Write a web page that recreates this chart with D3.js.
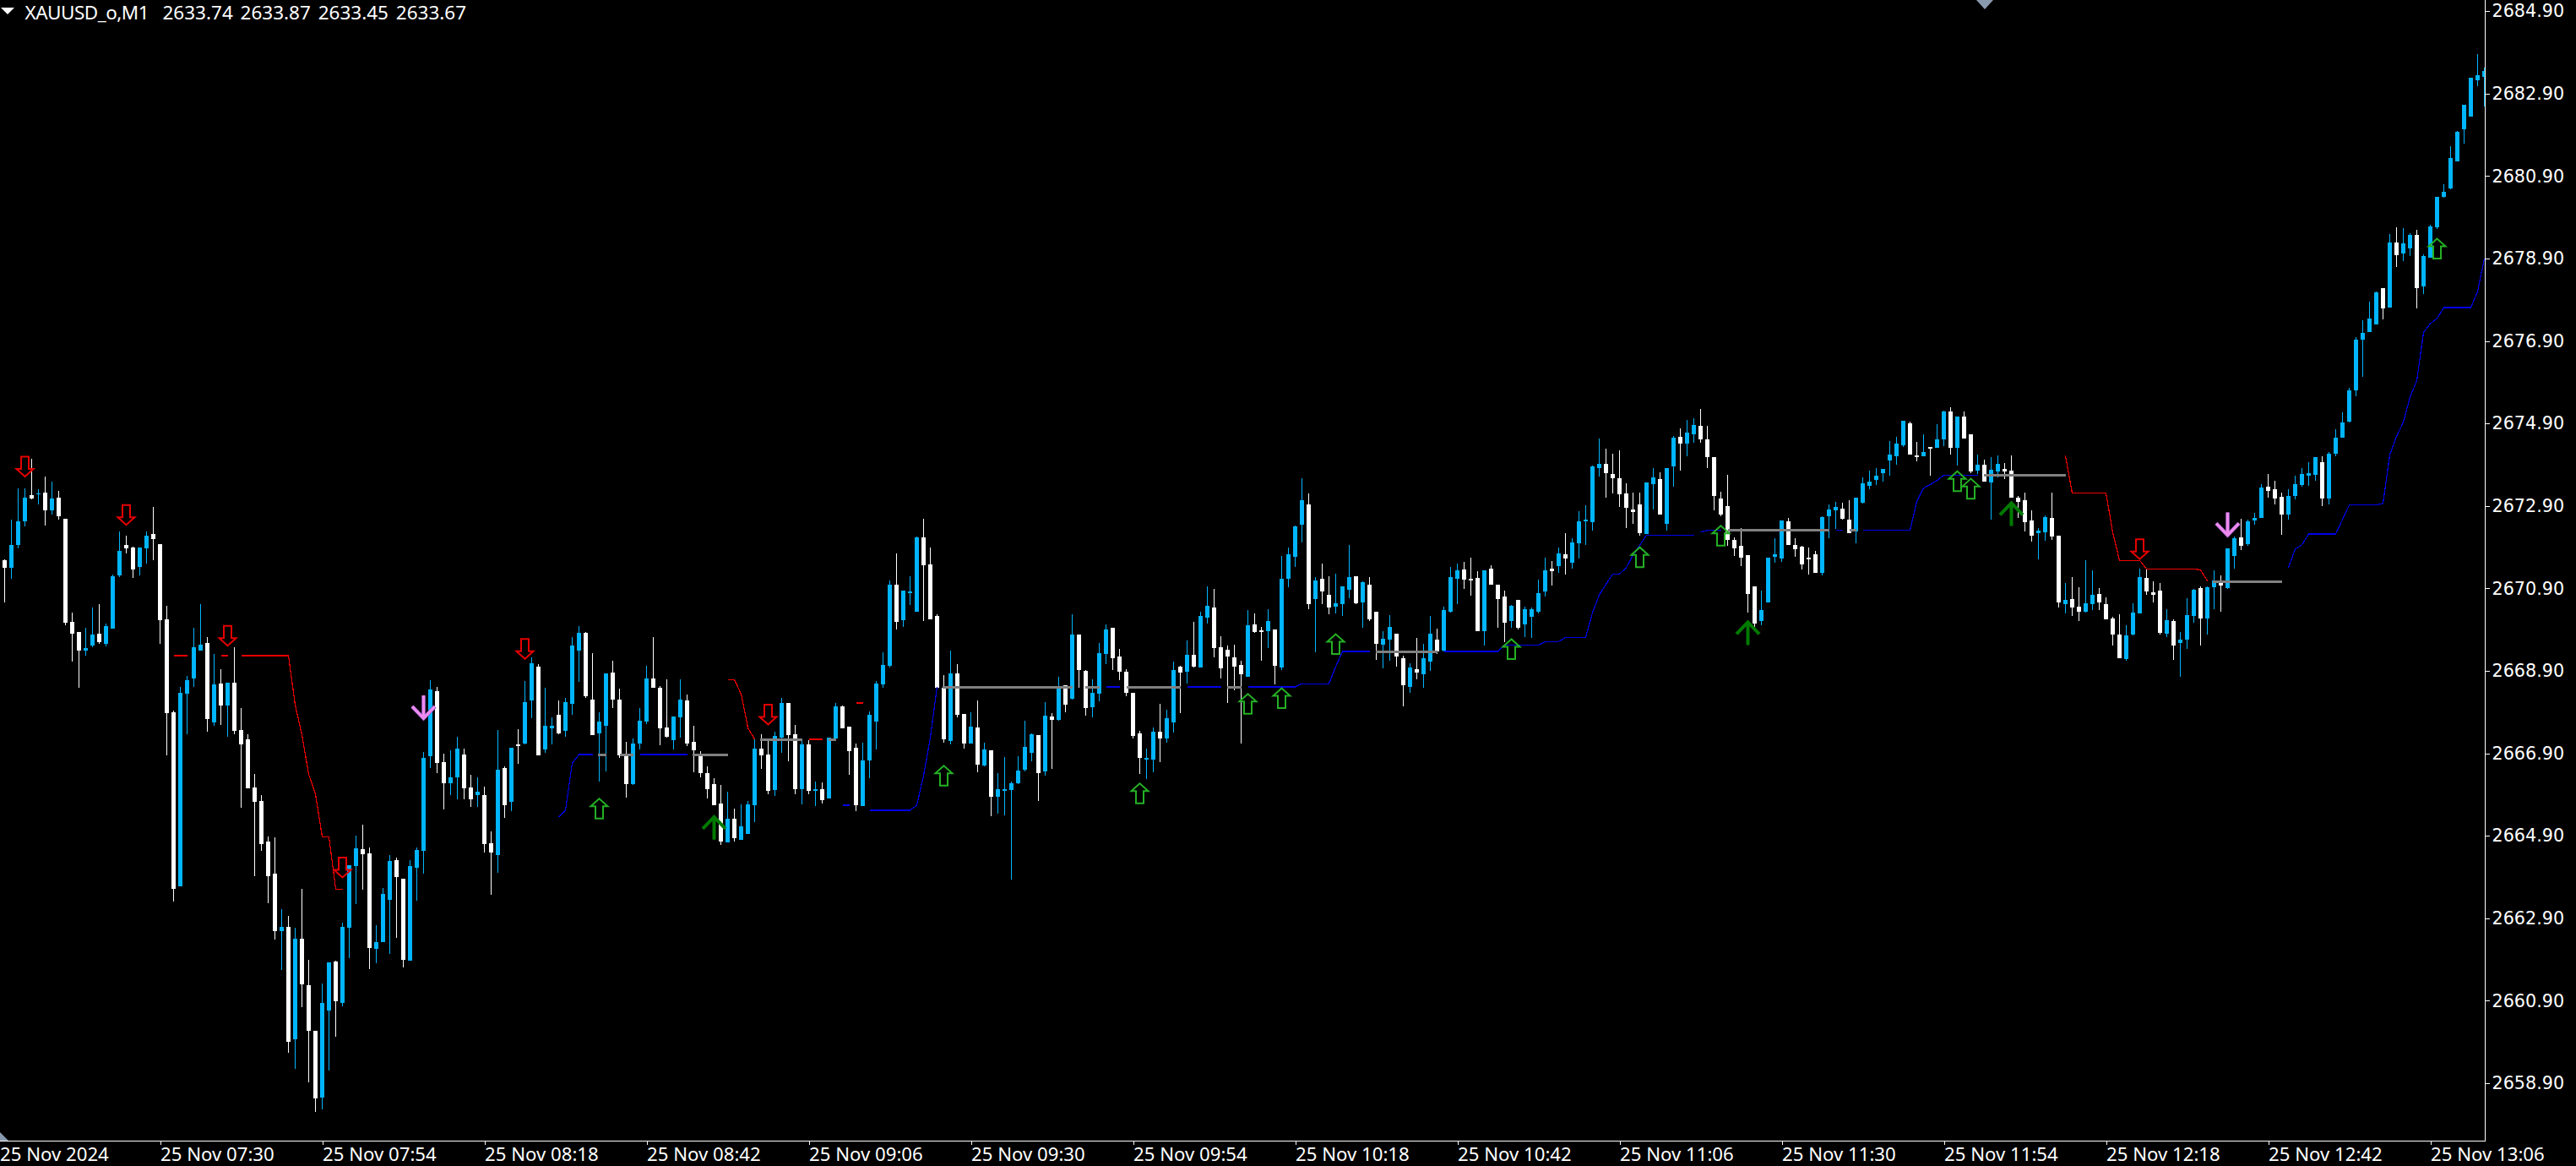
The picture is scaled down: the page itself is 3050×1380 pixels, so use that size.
<!DOCTYPE html>
<html><head><meta charset="utf-8"><title>XAUUSD_o,M1</title>
<script src="https://cdn.jsdelivr.net/npm/d3@7"></script>
<style>html,body{margin:0;padding:0;background:#000;overflow:hidden}svg{display:block}</style>
</head><body><svg id="chart" width="3050" height="1380"></svg>
<script>
const symbolName = "XAUUSD_o,M1";
const quoteText = "2633.74 2633.87 2633.45 2633.67";
const firstDateLabel = "25 Nov 2024";
const tickBars = [23,47,71,95,119,143,167,191,215,239,263,287,311,335,359];
const timeLabels = ["25 Nov 07:30","25 Nov 07:54","25 Nov 08:18","25 Nov 08:42","25 Nov 09:06","25 Nov 09:30","25 Nov 09:54","25 Nov 10:18","25 Nov 10:42","25 Nov 11:06","25 Nov 11:30","25 Nov 11:54","25 Nov 12:18","25 Nov 12:42","25 Nov 13:06"];
const priceTicks = [2684.9,2682.9,2680.9,2678.9,2676.9,2674.9,2672.9,2670.9,2668.9,2666.9,2664.9,2662.9,2660.9,2658.9];
const directions = ("WBBBWBWBWW"+"WWBBWBBBWW"+"BBWWWWBBBB"+"WBWBWWWWWW"+"WBWBWWWBBW"+"BBBWWBBBWW"+"BBBBWWBBWW"+"BWWBWBWBBW"+"BBWBBBWWBB"+"WWWBBBWWWB"+"BWWWWWWBWB"+"BBWWBBWWBW"+"BWBBWWWBBB"+"BBWBBBWWWW"+"BWWBWBWBBB"+"BBBWBWBWBW"+"WBBBWWWWWB"+"BWBBWBWBBW"+"WWWWBWWBWB"+"BBBWBWWBBB"+"WBWWBBWWBW"+"BBWBBBWWWB"+"WWWBWBBBBW"+"BWBBBBBWWW"+"WWWBBWBBWB"+"BWWWWWWWWW"+"BBBBWWWWWB"+"BBWWBBBBBB"+"BBWWBWBBWB"+"WWBWBBWWWW"+"WBBWWBWWBB"+"WWWWBBBWWW"+"BWBBBWBBWB"+"BWBBBWWWBB"+"BBBWBBBBBB"+"BBWBWBBWBB"+"BBBBBBBB").split("");
const highs = [
2671.61,2672.57,2673.33,2673.33,2674.04,2673.31,2673.62,2673.48,2673.27,2672.59,
2670.32,2669.85,2669.95,2670.44,2670.52,2670.05,2671.24,2672.29,2672.18,2671.92,
2671.90,2672.29,2672.88,2671.98,2670.48,2667.94,2668.52,2668.78,2669.95,2670.52,
2669.71,2669.32,2668.95,2668.62,2669.48,2668.00,2667.37,2666.41,2665.89,2664.89,
2664.87,2663.12,2662.96,2662.67,2663.62,2661.89,2660.17,2661.32,2661.83,2661.87,
2662.80,2664.19,2664.91,2665.17,2664.62,2662.73,2663.64,2664.44,2664.37,2663.86,
2664.31,2664.62,2666.94,2668.68,2668.52,2666.90,2666.98,2667.31,2667.02,2666.37,
2666.32,2666.10,2665.01,2667.47,2666.59,2667.04,2667.49,2668.66,2669.23,2669.07,
2668.49,2667.78,2668.19,2668.25,2669.72,2669.99,2669.85,2669.33,2667.90,2668.84,
2669.15,2668.47,2667.18,2667.26,2668.00,2669.03,2669.72,2668.54,2668.70,2667.80,
2668.70,2668.33,2667.57,2666.96,2666.59,2666.30,2666.14,2665.97,2665.56,2665.67,
2665.75,2667.24,2667.37,2667.22,2667.43,2668.25,2668.13,2667.59,2667.22,2667.22,
2666.22,2666.20,2667.29,2668.13,2668.06,2667.55,2667.14,2667.16,2667.92,2668.66,
2669.35,2671.09,2671.75,2670.85,2671.20,2672.16,2672.59,2671.90,2670.28,2668.80,
2669.40,2669.07,2667.86,2667.90,2668.19,2667.16,2666.98,2666.42,2666.81,2666.22,
2666.83,2667.69,2667.39,2667.35,2668.14,2667.88,2668.76,2668.55,2670.27,2669.78,
2668.92,2668.69,2669.58,2670.03,2669.95,2669.44,2668.94,2668.37,2667.45,2667.02,
2667.53,2668.10,2667.96,2669.13,2669.02,2669.64,2670.09,2670.34,2670.95,2670.89,
2669.74,2669.52,2669.54,2669.15,2670.38,2670.30,2669.97,2670.40,2669.91,2671.69,
2671.90,2672.43,2673.58,2673.21,2671.18,2671.51,2671.20,2671.26,2670.95,2671.96,
2671.20,2671.08,2671.18,2670.34,2669.87,2670.26,2669.81,2669.27,2669.09,2669.70,
2669.56,2670.24,2669.93,2670.46,2671.42,2671.51,2671.54,2671.65,2671.32,2671.34,
2671.47,2670.98,2670.85,2670.50,2670.63,2670.46,2670.44,2671.11,2671.64,2671.56,
2671.89,2672.24,2672.11,2672.77,2672.91,2673.87,2674.53,2674.29,2674.16,2674.24,
2673.45,2673.22,2673.22,2673.47,2673.81,2673.71,2673.81,2674.59,2674.78,2674.98,
2675.02,2675.25,2674.84,2674.08,2673.24,2673.65,2672.13,2672.36,2671.70,2670.95,
2670.84,2671.64,2672.11,2672.54,2672.61,2672.11,2671.93,2671.89,2671.81,2672.65,
2672.93,2672.99,2672.97,2673.04,2673.10,2673.59,2673.75,2673.81,2673.79,2674.47,
2674.57,2674.96,2674.94,2674.45,2674.63,2674.33,2674.88,2675.21,2675.29,2675.06,
2675.19,2674.63,2674.14,2674.02,2674.08,2674.12,2673.94,2674.12,2673.14,2673.22,
2672.79,2672.36,2672.67,2673.22,2672.17,2671.03,2671.17,2670.93,2671.58,2671.33,
2670.90,2670.68,2670.21,2670.27,2670.00,2670.54,2671.38,2671.36,2671.07,2671.03,
2670.39,2670.15,2669.84,2670.66,2670.88,2670.95,2670.95,2671.33,2671.21,2671.87,
2672.15,2672.58,2672.56,2672.73,2673.43,2673.67,2673.51,2673.23,2673.31,2673.64,
2673.82,2673.96,2674.09,2674.11,2674.21,2674.76,2675.17,2675.77,2677.00,2677.41,
2677.86,2678.10,2678.18,2679.50,2679.66,2679.64,2679.52,2679.60,2679.00,2679.72,
2680.40,2680.71,2681.63,2682.00,2682.63,2683.29,2683.86,2683.53];
const bodyTops = [
2671.59,2671.96,2672.53,2673.11,2673.17,2673.21,2673.23,2673.09,2673.11,2672.59,
2670.09,2669.85,2669.46,2669.79,2669.81,2669.99,2671.20,2671.82,2671.96,2671.90,
2671.90,2672.18,2672.21,2671.98,2670.14,2667.90,2668.37,2668.68,2669.48,2669.54,
2669.58,2668.58,2668.60,2668.62,2668.62,2667.47,2667.23,2666.08,2665.75,2664.76,
2663.98,2662.69,2662.69,2662.41,2662.41,2661.28,2660.17,2660.85,2661.83,2661.85,
2662.69,2664.19,2664.60,2664.58,2664.48,2662.32,2663.49,2664.29,2664.31,2663.86,
2664.17,2664.56,2666.78,2668.44,2668.41,2666.69,2666.32,2667.02,2666.88,2666.08,
2665.96,2665.89,2664.72,2666.51,2666.55,2667.04,2667.12,2668.15,2669.09,2669.01,
2667.57,2667.57,2667.84,2668.15,2669.52,2669.83,2669.83,2668.21,2667.67,2668.84,
2668.86,2668.21,2666.83,2667.14,2667.70,2668.72,2668.72,2668.49,2667.53,2667.80,
2668.21,2668.19,2667.18,2666.83,2666.42,2666.16,2665.69,2665.32,2665.32,2665.13,
2665.67,2667.02,2667.02,2666.88,2667.33,2668.13,2668.13,2667.37,2667.12,2667.12,
2666.04,2666.04,2667.29,2668.04,2668.04,2667.55,2667.04,2666.73,2667.84,2668.60,
2669.05,2670.99,2670.99,2670.85,2670.82,2672.14,2672.14,2671.48,2670.24,2668.49,
2668.84,2668.84,2667.86,2667.55,2667.53,2667.00,2666.98,2666.04,2666.04,2666.18,
2666.49,2667.06,2667.37,2667.35,2667.82,2667.80,2668.50,2668.55,2669.78,2669.78,
2668.90,2668.37,2669.33,2669.91,2669.95,2669.25,2668.88,2668.37,2667.39,2666.79,
2667.43,2667.43,2667.75,2668.92,2669.00,2669.29,2669.29,2670.23,2670.48,2670.44,
2669.48,2669.42,2669.23,2669.05,2670.01,2670.03,2669.89,2670.11,2669.91,2671.14,
2671.73,2672.41,2673.04,2672.94,2671.10,2671.14,2670.75,2670.54,2670.95,2671.18,
2671.20,2671.06,2671.00,2670.34,2669.68,2669.97,2669.81,2669.21,2668.99,2668.95,
2669.21,2669.81,2669.66,2670.38,2671.18,2671.34,2671.36,2671.14,2671.16,2671.34,
2671.38,2670.98,2670.71,2670.48,2670.63,2670.40,2670.40,2670.78,2671.34,2671.38,
2671.74,2671.72,2672.01,2672.52,2672.56,2673.85,2673.92,2673.92,2673.67,2673.57,
2673.20,2672.81,2672.93,2673.47,2673.59,2673.55,2673.81,2674.55,2674.57,2674.67,
2674.86,2674.84,2674.51,2674.08,2673.08,2672.89,2672.07,2671.93,2671.70,2670.95,
2670.37,2671.64,2671.72,2672.54,2672.52,2671.95,2671.91,2671.64,2671.72,2672.63,
2672.81,2672.87,2672.83,2672.56,2673.10,2673.45,2673.49,2673.63,2673.79,2674.14,
2674.41,2674.96,2674.90,2674.12,2674.20,2674.33,2674.51,2675.19,2675.19,2675.06,
2675.06,2674.63,2673.90,2673.90,2673.77,2673.92,2673.79,2673.75,2673.10,2673.04,
2672.54,2672.30,2672.63,2672.61,2672.17,2670.62,2670.64,2670.45,2670.54,2670.74,
2670.76,2670.52,2670.17,2669.78,2669.76,2670.31,2671.17,2671.15,2670.80,2670.84,
2670.13,2670.11,2669.65,2670.25,2670.86,2670.90,2670.93,2671.09,2671.03,2671.87,
2672.11,2672.13,2672.52,2672.61,2673.35,2673.36,2673.31,2673.12,2673.14,2673.43,
2673.68,2673.70,2674.09,2673.96,2674.17,2674.56,2674.93,2675.71,2676.93,2677.10,
2677.45,2678.08,2678.18,2679.29,2679.29,2679.27,2679.48,2679.48,2678.97,2679.68,
2680.40,2680.52,2681.34,2681.97,2682.63,2683.29,2683.35,2683.45];
const bodyBottoms = [
2671.41,2671.41,2671.96,2672.53,2673.09,2673.19,2672.80,2672.80,2672.64,2670.07,
2669.81,2669.40,2669.40,2669.52,2669.60,2669.56,2669.93,2671.22,2671.88,2671.36,
2671.43,2671.88,2672.10,2670.12,2667.88,2663.62,2663.68,2668.35,2668.72,2669.40,
2667.74,2667.66,2668.07,2668.07,2667.45,2667.12,2666.06,2665.73,2664.69,2663.92,
2662.59,2662.59,2659.91,2659.97,2661.30,2660.17,2658.53,2658.55,2660.66,2660.89,
2660.85,2662.67,2664.17,2664.46,2662.18,2662.16,2662.32,2663.35,2663.90,2661.89,
2661.87,2664.13,2664.54,2666.84,2666.67,2666.18,2666.18,2666.32,2666.06,2665.79,
2665.89,2664.70,2664.50,2664.44,2665.65,2665.73,2667.08,2667.14,2668.19,2666.86,
2667.00,2667.51,2667.39,2667.45,2668.11,2669.40,2668.29,2667.35,2667.39,2667.57,
2668.21,2666.86,2666.16,2666.16,2667.14,2667.67,2668.49,2667.51,2667.31,2667.22,
2667.78,2667.14,2666.98,2666.42,2666.04,2665.65,2664.77,2664.74,2664.85,2664.81,
2664.95,2665.65,2666.86,2665.99,2666.02,2667.28,2667.35,2666.04,2666.04,2665.99,
2665.99,2665.77,2665.81,2667.26,2667.51,2666.96,2665.65,2665.63,2666.73,2667.67,
2668.58,2669.03,2670.09,2670.13,2670.80,2670.34,2671.46,2670.15,2668.49,2667.24,
2667.20,2667.84,2667.14,2667.14,2666.63,2666.61,2665.85,2665.85,2665.99,2666.02,
2666.18,2666.51,2666.92,2666.42,2666.47,2667.72,2667.72,2668.08,2668.22,2668.92,
2668.00,2668.02,2668.35,2669.31,2669.21,2668.88,2668.37,2667.32,2666.79,2666.75,
2666.75,2667.26,2667.26,2667.65,2668.86,2668.88,2669.00,2668.98,2670.20,2669.46,
2668.97,2669.25,2669.00,2668.82,2668.76,2669.85,2669.85,2669.87,2669.02,2668.98,
2671.14,2671.67,2672.45,2670.52,2670.65,2670.83,2670.44,2670.46,2670.52,2670.87,
2670.54,2670.57,2670.16,2669.56,2669.54,2669.66,2669.25,2668.56,2668.52,2668.86,
2668.82,2669.13,2669.37,2669.39,2670.34,2671.14,2671.12,2671.10,2669.87,2669.87,
2670.98,2670.65,2670.07,2670.11,2669.95,2670.03,2670.21,2670.33,2670.82,2671.31,
2671.44,2671.62,2671.52,2671.99,2672.52,2672.50,2673.81,2673.69,2673.57,2673.18,
2672.85,2672.75,2672.24,2672.22,2673.42,2672.69,2672.46,2673.85,2674.41,2674.41,
2674.63,2674.51,2674.08,2673.14,2672.69,2672.07,2671.87,2671.64,2670.76,2670.04,
2670.11,2670.56,2671.66,2671.62,2671.95,2671.85,2671.48,2671.60,2671.27,2671.27,
2672.65,2672.79,2672.58,2672.24,2672.28,2672.97,2673.38,2673.53,2673.69,2674.00,
2674.10,2674.37,2674.14,2674.10,2674.10,2674.29,2674.31,2674.51,2674.31,2674.31,
2674.53,2673.73,2673.75,2673.49,2673.47,2673.73,2673.73,2673.10,2672.99,2672.50,
2672.17,2672.24,2672.26,2672.15,2670.56,2670.52,2670.43,2670.33,2670.33,2670.52,
2670.56,2670.15,2669.78,2669.20,2669.18,2669.78,2670.29,2670.82,2670.74,2669.82,
2669.80,2669.51,2669.57,2669.65,2670.23,2670.17,2670.17,2670.93,2670.97,2670.90,
2671.68,2671.93,2671.97,2672.54,2672.61,2673.26,2673.08,2672.69,2672.69,2673.14,
2673.41,2673.64,2673.66,2673.08,2673.08,2674.17,2674.56,2674.95,2675.71,2676.93,
2677.12,2677.31,2677.69,2677.71,2678.98,2679.02,2679.15,2678.19,2678.23,2678.92,
2679.66,2680.40,2680.61,2681.26,2682.04,2682.35,2683.23,2683.31];
const lows = [
2670.57,2671.14,2671.88,2672.41,2673.07,2672.94,2672.43,2672.70,2672.57,2670.01,
2669.13,2668.48,2669.27,2669.48,2669.56,2669.50,2669.93,2671.18,2671.75,2671.16,
2671.22,2671.51,2671.59,2669.56,2666.86,2663.31,2663.68,2667.37,2668.52,2669.40,
2667.43,2667.57,2667.59,2667.31,2667.37,2665.59,2666.06,2663.93,2664.54,2663.27,
2662.39,2661.65,2659.64,2659.25,2660.75,2658.92,2658.21,2658.27,2659.21,2660.03,
2660.77,2661.94,2663.25,2663.60,2661.67,2661.81,2662.32,2662.04,2662.43,2661.71,
2661.87,2663.33,2663.98,2666.55,2666.43,2665.53,2665.89,2665.79,2665.79,2665.61,
2665.61,2664.50,2663.47,2664.00,2665.34,2665.50,2666.65,2667.12,2667.76,2666.86,
2666.92,2667.12,2667.37,2667.31,2667.84,2668.64,2668.25,2667.35,2666.22,2666.47,
2668.00,2666.79,2665.83,2666.14,2667.00,2667.61,2668.49,2667.10,2667.29,2667.00,
2667.29,2667.08,2666.45,2666.32,2665.81,2665.65,2664.68,2664.74,2664.77,2664.81,
2664.95,2665.24,2666.53,2665.91,2665.87,2666.92,2666.71,2665.91,2665.67,2665.91,
2665.63,2665.69,2665.81,2667.26,2667.51,2666.38,2665.50,2665.63,2666.30,2667.00,
2668.49,2668.99,2669.91,2669.97,2670.50,2670.34,2670.11,2670.15,2668.49,2667.16,
2667.12,2667.78,2667.02,2667.14,2666.45,2666.59,2665.38,2665.44,2665.40,2663.83,
2666.16,2666.47,2666.71,2665.75,2666.36,2666.53,2667.69,2667.90,2668.20,2668.49,
2667.82,2667.78,2668.17,2669.07,2668.92,2668.68,2668.29,2667.26,2666.40,2666.28,
2666.45,2666.69,2667.16,2667.41,2667.88,2668.60,2668.98,2668.98,2670.05,2669.23,
2668.72,2668.12,2668.43,2667.14,2668.76,2669.83,2669.15,2669.46,2668.58,2668.92,
2670.93,2671.43,2672.02,2670.40,2669.36,2670.52,2670.28,2670.30,2670.24,2670.67,
2670.52,2669.95,2670.11,2669.17,2668.97,2669.15,2669.00,2668.04,2668.37,2668.70,
2668.50,2668.90,2669.31,2669.37,2670.32,2670.52,2670.89,2670.73,2669.87,2669.52,
2670.98,2669.95,2669.60,2669.95,2669.91,2669.72,2669.70,2670.29,2670.70,2670.97,
2671.27,2671.23,2671.38,2671.62,2671.95,2672.30,2673.61,2673.10,2673.20,2672.87,
2672.36,2672.46,2672.17,2672.22,2672.81,2672.69,2672.30,2673.36,2673.75,2674.10,
2674.43,2674.43,2673.81,2672.79,2672.65,2671.93,2671.68,2671.44,2670.31,2669.96,
2670.00,2670.56,2671.52,2671.54,2671.95,2671.66,2671.36,2671.23,2671.27,2671.21,
2672.11,2672.34,2672.56,2672.24,2671.99,2672.95,2673.30,2673.40,2673.49,2673.63,
2673.90,2674.33,2674.14,2673.98,2674.10,2673.63,2674.31,2674.35,2674.14,2673.88,
2674.53,2673.69,2673.67,2673.49,2672.56,2673.59,2673.55,2673.10,2672.61,2672.28,
2672.03,2671.60,2672.05,2672.07,2670.43,2670.29,2670.23,2670.11,2670.31,2670.37,
2670.37,2670.15,2669.51,2669.20,2669.14,2669.76,2670.29,2670.74,2670.56,2669.78,
2669.72,2669.16,2668.75,2669.43,2670.06,2669.51,2669.78,2670.39,2670.33,2670.88,
2671.38,2671.83,2671.93,2672.44,2672.61,2673.10,2672.94,2672.20,2672.57,2673.06,
2673.37,2673.39,2673.51,2672.90,2672.94,2674.11,2674.56,2674.93,2675.56,2676.03,
2677.12,2677.30,2677.43,2677.71,2678.70,2678.84,2678.97,2677.70,2678.04,2678.92,
2679.62,2680.38,2680.58,2681.26,2681.69,2682.35,2683.08,2682.59];

// Blue stop line: runs of per-bar values, each run starting at the matching bar
const blueStarts = [82,94,124,128,163,175,184,213,251,271,275,338];
const blueRuns = [
[2665.35,2665.52,2666.66,2666.87,2666.87,2666.87],
[2666.87,2666.87,2666.87,2666.87,2666.87,2666.87,2666.87,2666.87],
[2665.64,2665.64],
[2665.52,2665.52,2665.52,2665.52,2665.52,2665.52,2665.52,2665.64,2666.36,2667.28,2668.51],
[2668.51,2668.51,2668.51],
[2668.51,2668.51,2668.51,2668.51,2668.51,2668.51],
[2668.51,2668.51,2668.51,2668.51,2668.51,2668.51,2668.51,2668.51,2668.59,2668.59,2668.59,2668.59,2668.59,2669.00,2669.37,2669.37,2669.37,2669.37,2669.37],
[2669.37,2669.37,2669.37,2669.37,2669.37,2669.37,2669.37,2669.37,2669.37,2669.53,2669.53,2669.52,2669.52,2669.52,2669.52,2669.61,2669.61,2669.61,2669.71,2669.71,2669.71,2669.71,2670.31,2670.74,2671.00,2671.25,2671.25,2671.40,2671.71,2671.95,2672.19,2672.19,2672.19,2672.19,2672.19,2672.19,2672.19,2672.19],
[2672.26,2672.31,2672.31,2672.31],
[2672.31,2672.31],
[2672.31,2672.31,2672.31,2672.31,2672.31,2672.31,2672.31,2672.31,2673.01,2673.33,2673.42,2673.52,2673.65,2673.65,2673.65,2673.65,2673.65,2673.65],
[2671.40,2671.85,2671.96,2672.22,2672.22,2672.22,2672.22,2672.22,2672.57,2672.92,2672.92,2672.92,2672.92,2672.92,2672.96,2674.14,2674.59,2674.93,2675.54,2675.94,2677.11,2677.32,2677.45,2677.71,2677.71,2677.71,2677.71,2677.71,2678.10,2678.90]
];
// Red stop line
const redStarts = [25,32,35,107,119,126,305];
const redRuns = [
[2669.27,2669.27,2669.27],
[2669.27,2669.27],
[2669.27,2669.27,2669.27,2669.27,2669.27,2669.27,2669.27,2669.27,2668.07,2667.35,2666.39,2665.91,2664.88,2664.87,2663.61,2663.61],
[2668.69,2668.69,2668.34,2667.52,2667.24],
[2667.24,2667.24,2667.24],
[2668.12,2668.12],
[2674.12,2673.21,2673.21,2673.21,2673.21,2673.21,2673.21,2672.26,2671.58,2671.58,2671.58,2671.58,2671.37,2671.37,2671.37,2671.37,2671.37,2671.37,2671.37,2671.37,2671.35,2671.08]
];
// Grey level segments
const greyPrices = [2666.87,2666.87,2666.87,2667.24,2667.24,2668.51,2668.51,2668.51,2668.51,2669.37,2672.31,2672.31,2673.65,2671.07];
const greyFrom = [87.8,91,101.8,111.8,121.9,138.8,159.9,166,180.9,202.9,255,273.1,292.9,326.8];
const greyTo = [89.1,93.1,107.1,118,123.1,158,162.1,174,183.1,212.1,270.1,274.1,305.1,337.1];
// Signal arrows
const redArrowBars = [3,18,33,50,77,113,316];
const redArrowPrices = [2673.58,2672.41,2669.48,2663.86,2669.16,2667.57,2671.58];
const greenArrowBars = [88,139,168,184,189,197,223,242,254,289,291,360];
const greenArrowPrices = [2665.83,2666.63,2666.20,2668.37,2668.51,2669.82,2669.70,2671.93,2672.45,2673.77,2673.59,2679.41];
const bigUpBars = [105,258,297];
const bigUpPrices = [2665.40,2670.12,2673.01];
const bigDownBars = [62,329];
const bigDownPrices = [2667.71,2672.15];

const W = 3050, H = 1380, plotRight = 2943, plotBottom = 1350;
const BULL = "#00b5ff", BEAR = "#ffffff";
const x = d3.scaleLinear().domain([0, 367]).range([5.5, 5.5 + 367 * 8]);
const y = d3.scaleLinear().domain([2684.9, 2658.9]).range([13.2, 13.2 + 26 * 48.8]);
const svg = d3.select("#chart").attr("viewBox", `0 0 ${W} ${H}`);
svg.append("rect").attr("width", W).attr("height", H).attr("fill", "#000");
svg.append("clipPath").attr("id", "plot").append("rect").attr("width", plotRight - 0.5).attr("height", plotBottom);
const plot = svg.append("g").attr("clip-path", "url(#plot)");

const bars = d3.range(highs.length);
const candle = plot.append("g").attr("shape-rendering", "crispEdges");
const lines = plot.append("g").attr("fill", "none").attr("shape-rendering", "crispEdges");
const line = start => d3.line().x((d, j) => x(start + j)).y(d => y(d));
redRuns.forEach((run, k) => lines.append("path").attr("d", line(redStarts[k])(run)).attr("stroke", "#f00000").attr("stroke-width", 1.2));
blueRuns.forEach((run, k) => lines.append("path").attr("d", line(blueStarts[k])(run)).attr("stroke", "#0000e6").attr("stroke-width", 1.2));

candle.selectAll("rect.wick").data(bars).join("rect").attr("class", "wick")
  .attr("x", i => x(i) - 0.5).attr("width", 1)
  .attr("y", i => y(highs[i])).attr("height", i => Math.max(1, y(lows[i]) - y(highs[i])))
  .attr("fill", i => directions[i] === "B" ? BULL : BEAR);
candle.selectAll("rect.body").data(bars).join("rect").attr("class", "body")
  .attr("x", i => x(i) - 2.5).attr("width", 5)
  .attr("y", i => y(bodyTops[i])).attr("height", i => Math.max(1.5, y(bodyBottoms[i]) - y(bodyTops[i])))
  .attr("fill", i => directions[i] === "B" ? BULL : BEAR);

plot.append("g").attr("shape-rendering", "crispEdges").selectAll("rect").data(greyPrices).join("rect")
  .attr("x", (d, k) => x(greyFrom[k])).attr("width", (d, k) => x(greyTo[k]) - x(greyFrom[k]))
  .attr("y", d => y(d) - 1.5).attr("height", 3).attr("fill", "#808080");

const hollowDown = "M0,-1.5 L-10,-10.5 L-4.5,-10.5 L-4.5,-25 L4.5,-25 L4.5,-10.5 L10,-10.5 Z";
const hollowUp = "M0,1.5 L-10,10.5 L-4.5,10.5 L-4.5,25 L4.5,25 L4.5,10.5 L10,10.5 Z";
const arrows = plot.append("g").attr("fill", "none");
arrows.selectAll("path.red").data(redArrowBars).join("path").attr("class", "red")
  .attr("d", hollowDown).attr("transform", (b, k) => `translate(${x(b)},${y(redArrowPrices[k])})`)
  .attr("stroke", "#e60000").attr("stroke-width", 2);
arrows.selectAll("path.green").data(greenArrowBars).join("path").attr("class", "green")
  .attr("d", hollowUp).attr("transform", (b, k) => `translate(${x(b)},${y(greenArrowPrices[k])})`)
  .attr("stroke", "#24b024").attr("stroke-width", 2);
const chevronUp = "M-13.5,16 L0,2 L13.5,16 M0,2 V29";
const chevronDown = "M-13.5,-16 L0,-2 L13.5,-16 M0,-2 V-29";
arrows.selectAll("path.bigup").data(bigUpBars).join("path").attr("class", "bigup")
  .attr("d", chevronUp).attr("transform", (b, k) => `translate(${x(b)},${y(bigUpPrices[k])})`)
  .attr("stroke", "#007a00").attr("stroke-width", 4);
arrows.selectAll("path.bigdownedge").data(bigDownBars).join("path").attr("class", "bigdownedge")
  .attr("d", chevronDown).attr("transform", (b, k) => `translate(${x(b)},${y(bigDownPrices[k])})`)
  .attr("stroke", "#8a4fb8").attr("stroke-width", 4.6);
arrows.selectAll("path.bigdown").data(bigDownBars).join("path").attr("class", "bigdown")
  .attr("d", chevronDown).attr("transform", (b, k) => `translate(${x(b)},${y(bigDownPrices[k])})`)
  .attr("stroke", "#ee8aee").attr("stroke-width", 3.4);

// Axes
const axisFont = "'Noto Sans', sans-serif";
const yAxis = d3.axisRight(y).tickValues(priceTicks).tickFormat(d3.format(".2f")).tickSize(5).tickPadding(3);
const gy = svg.append("g").attr("transform", `translate(${plotRight - 0.5},0)`).call(yAxis);
gy.select(".domain").remove();
gy.selectAll("line").attr("stroke", "#fff").attr("shape-rendering", "crispEdges");
gy.selectAll("text").attr("fill", "#fff").attr("font-family", "'DejaVu Sans', sans-serif").attr("font-size", 20.7);

const xAxis = d3.axisBottom(x).tickValues(tickBars).tickFormat((d, k) => timeLabels[k]).tickSize(4).tickPadding(0);
const gx = svg.append("g").attr("transform", `translate(0,${plotBottom + 0.5})`).call(xAxis);
gx.select(".domain").remove();
gx.selectAll("line").attr("stroke", "#fff").attr("shape-rendering", "crispEdges");
gx.selectAll("text").attr("fill", "#fff").attr("font-family", axisFont).attr("font-size", 22.2)
  .attr("text-anchor", "start").attr("y", 23).attr("dy", 0).attr("x", 0);
svg.append("text").text(firstDateLabel).attr("x", 0).attr("y", plotBottom + 23.5)
  .attr("fill", "#fff").attr("font-family", axisFont).attr("font-size", 22.2);

svg.append("line").attr("x1", plotRight - 0.5).attr("x2", plotRight - 0.5).attr("y1", 0).attr("y2", plotBottom + 1)
  .attr("stroke", "#fff").attr("shape-rendering", "crispEdges");
svg.append("line").attr("x1", 0).attr("x2", plotRight).attr("y1", plotBottom + 0.5).attr("y2", plotBottom + 0.5)
  .attr("stroke", "#fff").attr("shape-rendering", "crispEdges");

// Header and chart-shift markers
const header = svg.append("text").attr("y", 23).attr("fill", "#fff").attr("font-family", axisFont).attr("font-size", 22.5);
header.append("tspan").text(symbolName).attr("x", 29.5).attr("letter-spacing", -0.5);
header.append("tspan").text(quoteText).attr("x", 192.5).attr("word-spacing", 3);
svg.append("path").attr("d", "M1,9 L17,9 L9,17 Z").attr("fill", "#fff");
svg.append("path").attr("d", "M2340,0 L2360,0 L2350,11 Z").attr("fill", "#8a9aae");
svg.append("path").attr("d", "M0,1340 L10,1350 L0,1350 Z").attr("fill", "#8a9aae");
</script></body></html>
